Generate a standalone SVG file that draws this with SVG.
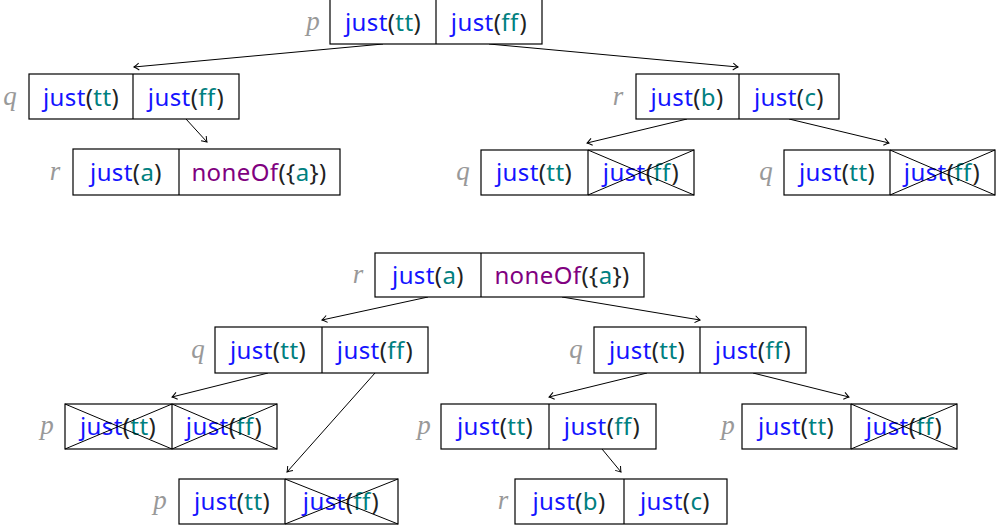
<svg xmlns="http://www.w3.org/2000/svg" width="1003" height="531" viewBox="0 0 1003 531">
<style>
.bx{fill:#fff;stroke:#000;stroke-width:1.2}
.dv{stroke:#000;stroke-width:1.2}
.x{stroke:#000;stroke-width:1}
.t{font-family:"Noto Sans","DejaVu Sans",sans-serif;font-size:24px;letter-spacing:0.4px;text-anchor:middle;fill:#222}
.k{fill:#1414ff}
.v{fill:#008080}
.n{fill:#800080}
.l{font-family:"Liberation Serif",serif;font-style:italic;font-size:27px;fill:#999;text-anchor:middle}
.e{stroke:#000;stroke-width:1;fill:none}
</style>
<defs>
<marker id="ah" markerUnits="userSpaceOnUse" markerWidth="12" markerHeight="12" viewBox="-6 -6 12 12" refX="0" refY="0" orient="auto">
<path d="M-5,-3.5 Q-1.5,-0.8 0,0 Q-1.5,0.8 -5,3.5" fill="none" stroke="#000" stroke-width="1"/>
</marker>
</defs>
<rect width="1003" height="531" fill="#fff"/>
<g id="connectors" class="e" marker-end="url(#ah)">
<line x1="383" y1="44" x2="134" y2="67"/>
<line x1="489" y1="44" x2="738" y2="67"/>
<line x1="186" y1="119" x2="207" y2="142"/>
<line x1="687" y1="119" x2="587" y2="143"/>
<line x1="789" y1="119" x2="889" y2="143"/>
<line x1="428" y1="297" x2="322" y2="320"/>
<line x1="562" y1="297" x2="700" y2="320"/>
<line x1="268" y1="373" x2="172" y2="397"/>
<line x1="375" y1="373" x2="287" y2="472"/>
<line x1="647" y1="373" x2="549" y2="397"/>
<line x1="753" y1="373" x2="849" y2="397"/>
<line x1="602" y1="449" x2="621" y2="472"/>
</g>
<g id="p1">
<text class="l" x="313" y="30">p</text>
<rect class="bx" x="330" y="-2" width="212" height="46"/>
<line class="dv" x1="436" y1="-2" x2="436" y2="44"/>
<text class="t" x="383" y="31"><tspan class="k">just</tspan>(<tspan class="v">tt</tspan>)</text>
<text class="t" x="489" y="31"><tspan class="k">just</tspan>(<tspan class="v">ff</tspan>)</text>
</g>
<g id="q1">
<text class="l" x="10" y="105">q</text>
<rect class="bx" x="29" y="74" width="210" height="45"/>
<line class="dv" x1="133" y1="74" x2="133" y2="119"/>
<text class="t" x="81" y="106"><tspan class="k">just</tspan>(<tspan class="v">tt</tspan>)</text>
<text class="t" x="186" y="106"><tspan class="k">just</tspan>(<tspan class="v">ff</tspan>)</text>
</g>
<g id="r1">
<text class="l" x="618" y="105">r</text>
<rect class="bx" x="636" y="74" width="203" height="45"/>
<line class="dv" x1="739" y1="74" x2="739" y2="119"/>
<text class="t" x="687" y="106"><tspan class="k">just</tspan>(<tspan class="v">b</tspan>)</text>
<text class="t" x="789" y="106"><tspan class="k">just</tspan>(<tspan class="v">c</tspan>)</text>
</g>
<g id="r2">
<text class="l" x="55" y="180">r</text>
<rect class="bx" x="73" y="149" width="267" height="46"/>
<line class="dv" x1="179" y1="149" x2="179" y2="195"/>
<text class="t" x="126" y="181"><tspan class="k">just</tspan>(<tspan class="v">a</tspan>)</text>
<text class="t" x="259" y="181"><tspan class="n">noneOf</tspan>({<tspan class="v">a</tspan>})</text>
</g>
<g id="q2">
<text class="l" x="463" y="180">q</text>
<rect class="bx" x="481" y="150" width="213" height="45"/>
<line class="dv" x1="588" y1="150" x2="588" y2="195"/>
<text class="t" x="534" y="181"><tspan class="k">just</tspan>(<tspan class="v">tt</tspan>)</text>
<text class="t" x="641" y="181"><tspan class="k">just</tspan>(<tspan class="v">ff</tspan>)</text>
<line class="x" x1="588" y1="150" x2="694" y2="195"/>
<line class="x" x1="588" y1="195" x2="694" y2="150"/>
</g>
<g id="q3">
<text class="l" x="766" y="180">q</text>
<rect class="bx" x="784" y="150" width="211" height="45"/>
<line class="dv" x1="890" y1="150" x2="890" y2="195"/>
<text class="t" x="837" y="181"><tspan class="k">just</tspan>(<tspan class="v">tt</tspan>)</text>
<text class="t" x="942" y="181"><tspan class="k">just</tspan>(<tspan class="v">ff</tspan>)</text>
<line class="x" x1="890" y1="150" x2="995" y2="195"/>
<line class="x" x1="890" y1="195" x2="995" y2="150"/>
</g>
<g id="r3">
<text class="l" x="358" y="283">r</text>
<rect class="bx" x="375" y="253" width="269" height="44"/>
<line class="dv" x1="481" y1="253" x2="481" y2="297"/>
<text class="t" x="428" y="284"><tspan class="k">just</tspan>(<tspan class="v">a</tspan>)</text>
<text class="t" x="562" y="284"><tspan class="n">noneOf</tspan>({<tspan class="v">a</tspan>})</text>
</g>
<g id="q4">
<text class="l" x="198" y="358">q</text>
<rect class="bx" x="215" y="327" width="213" height="46"/>
<line class="dv" x1="322" y1="327" x2="322" y2="373"/>
<text class="t" x="268" y="359"><tspan class="k">just</tspan>(<tspan class="v">tt</tspan>)</text>
<text class="t" x="375" y="359"><tspan class="k">just</tspan>(<tspan class="v">ff</tspan>)</text>
</g>
<g id="q5">
<text class="l" x="576" y="358">q</text>
<rect class="bx" x="594" y="327" width="212" height="46"/>
<line class="dv" x1="700" y1="327" x2="700" y2="373"/>
<text class="t" x="647" y="359"><tspan class="k">just</tspan>(<tspan class="v">tt</tspan>)</text>
<text class="t" x="753" y="359"><tspan class="k">just</tspan>(<tspan class="v">ff</tspan>)</text>
</g>
<g id="p2">
<text class="l" x="47" y="434">p</text>
<rect class="bx" x="65" y="404" width="212" height="45"/>
<line class="dv" x1="172" y1="404" x2="172" y2="449"/>
<text class="t" x="118" y="435"><tspan class="k">just</tspan>(<tspan class="v">tt</tspan>)</text>
<text class="t" x="224" y="435"><tspan class="k">just</tspan>(<tspan class="v">ff</tspan>)</text>
<line class="x" x1="65" y1="404" x2="172" y2="449"/>
<line class="x" x1="65" y1="449" x2="172" y2="404"/>
<line class="x" x1="172" y1="404" x2="277" y2="449"/>
<line class="x" x1="172" y1="449" x2="277" y2="404"/>
</g>
<g id="p3">
<text class="l" x="424" y="434">p</text>
<rect class="bx" x="441" y="404" width="215" height="45"/>
<line class="dv" x1="549" y1="404" x2="549" y2="449"/>
<text class="t" x="495" y="435"><tspan class="k">just</tspan>(<tspan class="v">tt</tspan>)</text>
<text class="t" x="602" y="435"><tspan class="k">just</tspan>(<tspan class="v">ff</tspan>)</text>
</g>
<g id="p4">
<text class="l" x="728" y="434">p</text>
<rect class="bx" x="742" y="404" width="215" height="45"/>
<line class="dv" x1="851" y1="404" x2="851" y2="449"/>
<text class="t" x="796" y="435"><tspan class="k">just</tspan>(<tspan class="v">tt</tspan>)</text>
<text class="t" x="904" y="435"><tspan class="k">just</tspan>(<tspan class="v">ff</tspan>)</text>
<line class="x" x1="851" y1="404" x2="957" y2="449"/>
<line class="x" x1="851" y1="449" x2="957" y2="404"/>
</g>
<g id="p5">
<text class="l" x="160" y="509">p</text>
<rect class="bx" x="179" y="479" width="219" height="45"/>
<line class="dv" x1="285" y1="479" x2="285" y2="524"/>
<text class="t" x="232" y="510"><tspan class="k">just</tspan>(<tspan class="v">tt</tspan>)</text>
<text class="t" x="341" y="510"><tspan class="k">just</tspan>(<tspan class="v">ff</tspan>)</text>
<line class="x" x1="285" y1="479" x2="398" y2="524"/>
<line class="x" x1="285" y1="524" x2="398" y2="479"/>
</g>
<g id="r4">
<text class="l" x="503" y="509">r</text>
<rect class="bx" x="515" y="479" width="212" height="45"/>
<line class="dv" x1="624" y1="479" x2="624" y2="524"/>
<text class="t" x="569" y="510"><tspan class="k">just</tspan>(<tspan class="v">b</tspan>)</text>
<text class="t" x="675" y="510"><tspan class="k">just</tspan>(<tspan class="v">c</tspan>)</text>
</g>
</svg>
